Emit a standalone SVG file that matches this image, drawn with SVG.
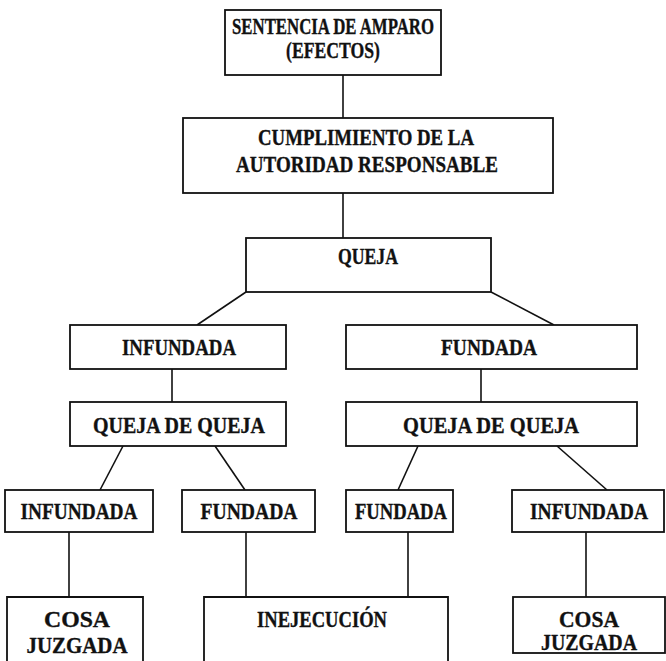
<svg xmlns="http://www.w3.org/2000/svg" width="666" height="661" viewBox="0 0 666 661">
<style>
.box{fill:#fff;stroke:#111;stroke-width:1.8}
.open{fill:none;stroke:#111;stroke-width:1.8}
.t{font-family:"Liberation Serif","Times New Roman",serif;font-weight:bold;font-size:22.5px;fill:#111;stroke:#111;stroke-width:0.35;text-anchor:middle}
#connectors line{stroke:#111;stroke-width:1.6}
</style>
<rect width="666" height="661" fill="#fff"/>
<g id="connectors">
<line x1="343" y1="75" x2="343" y2="118"/>
<line x1="343" y1="193" x2="343" y2="238"/>
<line x1="246" y1="292" x2="197" y2="325"/>
<line x1="491" y1="292" x2="554" y2="325"/>
<line x1="172" y1="369" x2="172" y2="402"/>
<line x1="481" y1="369" x2="481" y2="402"/>
<line x1="123" y1="446" x2="100" y2="490"/>
<line x1="215" y1="446" x2="245" y2="490"/>
<line x1="418" y1="446" x2="398" y2="490"/>
<line x1="557" y1="446" x2="607" y2="490"/>
<line x1="69" y1="532" x2="69" y2="597"/>
<line x1="246" y1="532" x2="246" y2="597"/>
<line x1="408" y1="532" x2="408" y2="597"/>
<line x1="586" y1="532" x2="586" y2="597"/>
</g>
<g id="sentencia">
<rect class="box" x="225" y="10" width="216" height="65"/>
<text class="t" x="333" y="34" textLength="202" lengthAdjust="spacingAndGlyphs">SENTENCIA DE AMPARO</text>
<text class="t" x="333" y="58" textLength="94" lengthAdjust="spacingAndGlyphs">(EFECTOS)</text>
</g>
<g id="cumplimiento">
<rect class="box" x="183" y="118" width="370" height="75"/>
<text class="t" x="366" y="145" textLength="216" lengthAdjust="spacingAndGlyphs">CUMPLIMIENTO DE LA</text>
<text class="t" x="367" y="172" textLength="262" lengthAdjust="spacingAndGlyphs">AUTORIDAD RESPONSABLE</text>
</g>
<g id="queja">
<rect class="box" x="246" y="238" width="245" height="54"/>
<text class="t" x="368" y="264" textLength="60" lengthAdjust="spacingAndGlyphs">QUEJA</text>
</g>
<g id="infundada1">
<rect class="box" x="70" y="325" width="216" height="44"/>
<text class="t" x="179" y="355" textLength="114" lengthAdjust="spacingAndGlyphs">INFUNDADA</text>
</g>
<g id="fundada1">
<rect class="box" x="346" y="325" width="291" height="44"/>
<text class="t" x="489" y="355" textLength="96" lengthAdjust="spacingAndGlyphs">FUNDADA</text>
</g>
<g id="quejaqueja1">
<rect class="box" x="70" y="402" width="216" height="44"/>
<text class="t" x="179" y="433" textLength="172" lengthAdjust="spacingAndGlyphs">QUEJA DE QUEJA</text>
</g>
<g id="quejaqueja2">
<rect class="box" x="346" y="402" width="291" height="44"/>
<text class="t" x="491" y="433" textLength="176" lengthAdjust="spacingAndGlyphs">QUEJA DE QUEJA</text>
</g>
<g id="infundada2">
<rect class="box" x="5" y="490" width="148" height="42"/>
<text class="t" x="79" y="519" textLength="117" lengthAdjust="spacingAndGlyphs">INFUNDADA</text>
</g>
<g id="fundada2">
<rect class="box" x="182" y="490" width="133" height="42"/>
<text class="t" x="249" y="519" textLength="97" lengthAdjust="spacingAndGlyphs">FUNDADA</text>
</g>
<g id="fundada3">
<rect class="box" x="346" y="490" width="107" height="42"/>
<text class="t" x="401" y="519" textLength="92" lengthAdjust="spacingAndGlyphs">FUNDADA</text>
</g>
<g id="infundada3">
<rect class="box" x="512" y="490" width="152" height="42"/>
<text class="t" x="589" y="519" textLength="118" lengthAdjust="spacingAndGlyphs">INFUNDADA</text>
</g>
<g id="cosajuzgada1">
<path class="open" d="M7,661 V597 H143 V661"/>
<text class="t" x="77" y="627" textLength="66" lengthAdjust="spacingAndGlyphs">COSA</text>
<text class="t" x="77" y="653" textLength="101" lengthAdjust="spacingAndGlyphs">JUZGADA</text>
</g>
<g id="inejecucion">
<path class="open" d="M204,661 V597 H448 V661"/>
<text class="t" x="322" y="627" textLength="130" lengthAdjust="spacingAndGlyphs">INEJECUCIÓN</text>
</g>
<g id="cosajuzgada2">
<rect class="box" x="513" y="597" width="152" height="56"/>
<text class="t" x="589" y="627" textLength="60" lengthAdjust="spacingAndGlyphs">COSA</text>
<text class="t" x="589" y="650" textLength="96" lengthAdjust="spacingAndGlyphs">JUZGADA</text>
</g>
</svg>
